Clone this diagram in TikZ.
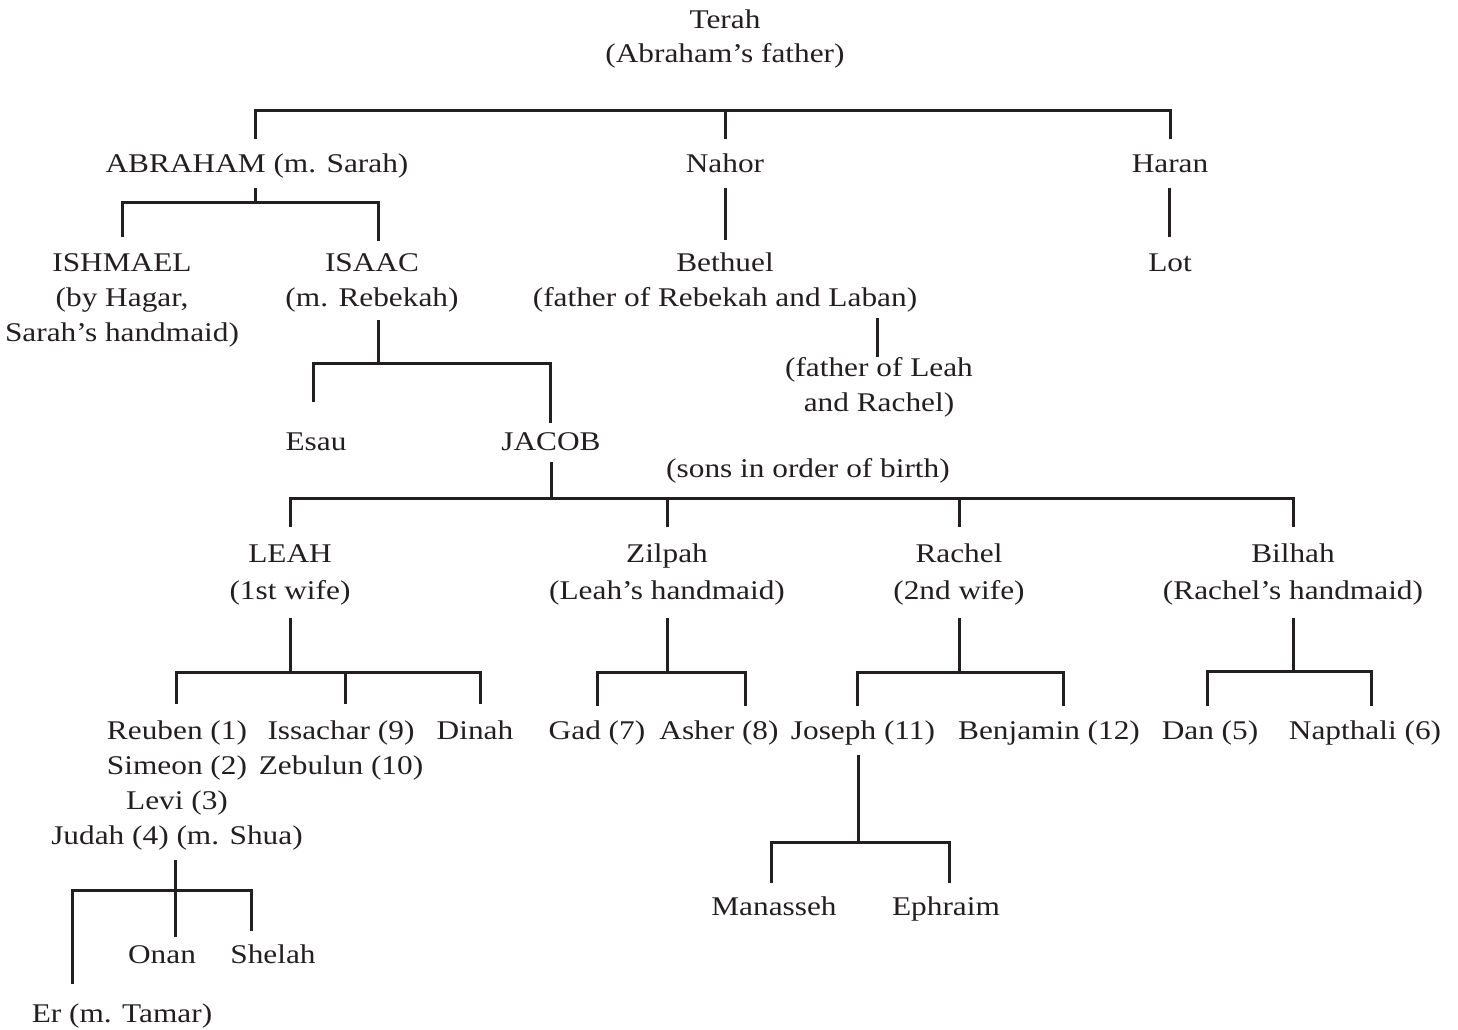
\documentclass[tikz,border=0pt]{standalone}
\usepackage{fontspec}
\setmainfont{Liberation Serif}[FakeStretch=1.16]
\definecolor{ink}{RGB}{35,31,32}
\newcommand\mlines[1]{\begin{tabular}[t]{@{}c@{}}#1\end{tabular}}
\begin{document}
\begin{tikzpicture}[x=1pt,y=-1pt,
  lbl/.style={inner sep=0pt, anchor=base, text=ink, font=\fontsize{27}{35}\selectfont},
  link/.style={draw=ink, line width=3pt, line cap=butt, line join=miter}]
\fill[white] (0,0) rectangle (1458,1029);
\useasboundingbox (0,0) rectangle (1458,1029);

% ---------- nodes ----------
\node[lbl] (terah) at (725,28) {\fontsize{27}{34}\selectfont\mlines{Terah\\(Abraham’s father)}};
\node[lbl] (abraham) at (257,172) {ABRAHAM (m. Sarah)};
\node[lbl] (nahor) at (725,172) {Nahor};
\node[lbl] (haran) at (1170,172) {Haran};
\node[lbl] (ishmael) at (122,271) {\mlines{ISHMAEL\\(by Hagar,\\Sarah’s handmaid)}};
\node[lbl] (isaac) at (372,271) {\mlines{ISAAC\\(m. Rebekah)}};
\node[lbl] (bethuel) at (725,271) {\mlines{Bethuel\\(father of Rebekah and Laban)}};
\node[lbl] (lot) at (1170,271) {Lot};
\node[lbl] (laban) at (879,376) {\mlines{(father of Leah\\and Rachel)}};
\node[lbl] (esau) at (316,450) {Esau};
\node[lbl] (jacob) at (551,450) {JACOB};
\node[lbl] (sons) at (808,477) {(sons in order of birth)};
\node[lbl] (leah) at (290,562) {\fontsize{27}{37}\selectfont\mlines{LEAH\\(1st wife)}};
\node[lbl] (zilpah) at (667,562) {\fontsize{27}{37}\selectfont\mlines{Zilpah\\(Leah’s handmaid)}};
\node[lbl] (rachel) at (959,562) {\fontsize{27}{37}\selectfont\mlines{Rachel\\(2nd wife)}};
\node[lbl] (bilhah) at (1293,562) {\fontsize{27}{37}\selectfont\mlines{Bilhah\\(Rachel’s handmaid)}};
\node[lbl] (reuben) at (177,739) {\mlines{Reuben (1)\\Simeon (2)\\Levi (3)\\Judah (4) (m. Shua)}};
\node[lbl] (issachar) at (341,739) {\mlines{Issachar (9)\\Zebulun (10)}};
\node[lbl] (dinah) at (475,739) {Dinah};
\node[lbl] (gad) at (597,739) {Gad (7)};
\node[lbl] (asher) at (719,739) {Asher (8)};
\node[lbl] (joseph) at (863,739) {Joseph (11)};
\node[lbl] (benjamin) at (1049,739) {Benjamin (12)};
\node[lbl] (dan) at (1210,739) {Dan (5)};
\node[lbl] (napthali) at (1365,739) {Napthali (6)};
\node[lbl] (onan) at (162,963) {Onan};
\node[lbl] (shelah) at (273,963) {Shelah};
\node[lbl] (er) at (122,1022) {Er (m. Tamar)};
\node[lbl] (manasseh) at (774,915) {Manasseh};
\node[lbl] (ephraim) at (946,915) {Ephraim};

% ---------- Terah's sons ----------
\coordinate (tBar) at (725,110);
\coordinate (tA) at (255,139);
\coordinate (tN) at (725,139);
\coordinate (tH) at (1170,139);
\draw[link] (tA) -- (tA |- tBar) -- (tH |- tBar) -- (tH);
\draw[link] (tBar) -- (tN);

% ---------- Abraham ----------
\coordinate (aTop) at (255,188);
\coordinate (aBar) at (255,202);
\coordinate (aIsh) at (122,237);
\coordinate (aIsa) at (378,241);
\draw[link] (aIsh) -- (aIsh |- aBar) -- (aIsa |- aBar) -- (aIsa);
\draw[link] (aTop) -- (aBar);

% ---------- Nahor, Haran, Bethuel ----------
\coordinate (nTop) at (725,188);
\coordinate (nBot) at (725,240);
\draw[link] (nTop) -- (nBot);
\coordinate (hTop) at (1169,188);
\coordinate (hBot) at (1169,237);
\draw[link] (hTop) -- (hBot);
\coordinate (bTop) at (877,318);
\coordinate (bBot) at (877,357);
\draw[link] (bTop) -- (bBot);

% ---------- Isaac ----------
\coordinate (iTop) at (378,320);
\coordinate (iBar) at (378,363);
\coordinate (iEsau) at (313,402);
\coordinate (iJac) at (550,423);
\draw[link] (iEsau) -- (iEsau |- iBar) -- (iJac |- iBar) -- (iJac);
\draw[link] (iTop) -- (iBar);

% ---------- Jacob ----------
\coordinate (jTop) at (551,462);
\coordinate (jBar) at (551,498);
\coordinate (jLeah) at (290,527);
\coordinate (jZil) at (667,527);
\coordinate (jRac) at (959,527);
\coordinate (jBil) at (1293,527);
\draw[link] (jLeah) -- (jLeah |- jBar) -- (jBil |- jBar) -- (jBil);
\draw[link] (jTop) -- (jBar);
\draw[link] (jZil |- jBar) -- (jZil);
\draw[link] (jRac |- jBar) -- (jRac);

% ---------- Leah ----------
\coordinate (lTop) at (290,618);
\coordinate (lBar) at (290,672);
\coordinate (lReu) at (176,704);
\coordinate (lIss) at (345,704);
\coordinate (lDin) at (480,704);
\draw[link] (lReu) -- (lReu |- lBar) -- (lDin |- lBar) -- (lDin);
\draw[link] (lTop) -- (lBar);
\draw[link] (lIss |- lBar) -- (lIss);

% ---------- Zilpah ----------
\coordinate (zTop) at (667,618);
\coordinate (zBar) at (667,672);
\coordinate (zGad) at (597,706);
\coordinate (zAsh) at (745,706);
\draw[link] (zGad) -- (zGad |- zBar) -- (zAsh |- zBar) -- (zAsh);
\draw[link] (zTop) -- (zBar);

% ---------- Rachel ----------
\coordinate (rTop) at (959,618);
\coordinate (rBar) at (959,672);
\coordinate (rJos) at (857,706);
\coordinate (rBen) at (1063,706);
\draw[link] (rJos) -- (rJos |- rBar) -- (rBen |- rBar) -- (rBen);
\draw[link] (rTop) -- (rBar);

% ---------- Bilhah ----------
\coordinate (biTop) at (1293,618);
\coordinate (biBar) at (1293,671);
\coordinate (biDan) at (1207,706);
\coordinate (biNap) at (1371,706);
\draw[link] (biDan) -- (biDan |- biBar) -- (biNap |- biBar) -- (biNap);
\draw[link] (biTop) -- (biBar);

% ---------- Judah ----------
\coordinate (juTop) at (175,860);
\coordinate (juBar) at (175,890);
\coordinate (juEr) at (72,984);
\coordinate (juOn) at (175,937);
\coordinate (juSh) at (251,931);
\draw[link] (juEr) -- (juEr |- juBar) -- (juSh |- juBar) -- (juSh);
\draw[link] (juTop) -- (juOn);

% ---------- Joseph ----------
\coordinate (joTop) at (858,755);
\coordinate (joBar) at (858,842);
\coordinate (joMan) at (771,883);
\coordinate (joEph) at (949,883);
\draw[link] (joMan) -- (joMan |- joBar) -- (joEph |- joBar) -- (joEph);
\draw[link] (joTop) -- (joBar);
\end{tikzpicture}
\end{document}
